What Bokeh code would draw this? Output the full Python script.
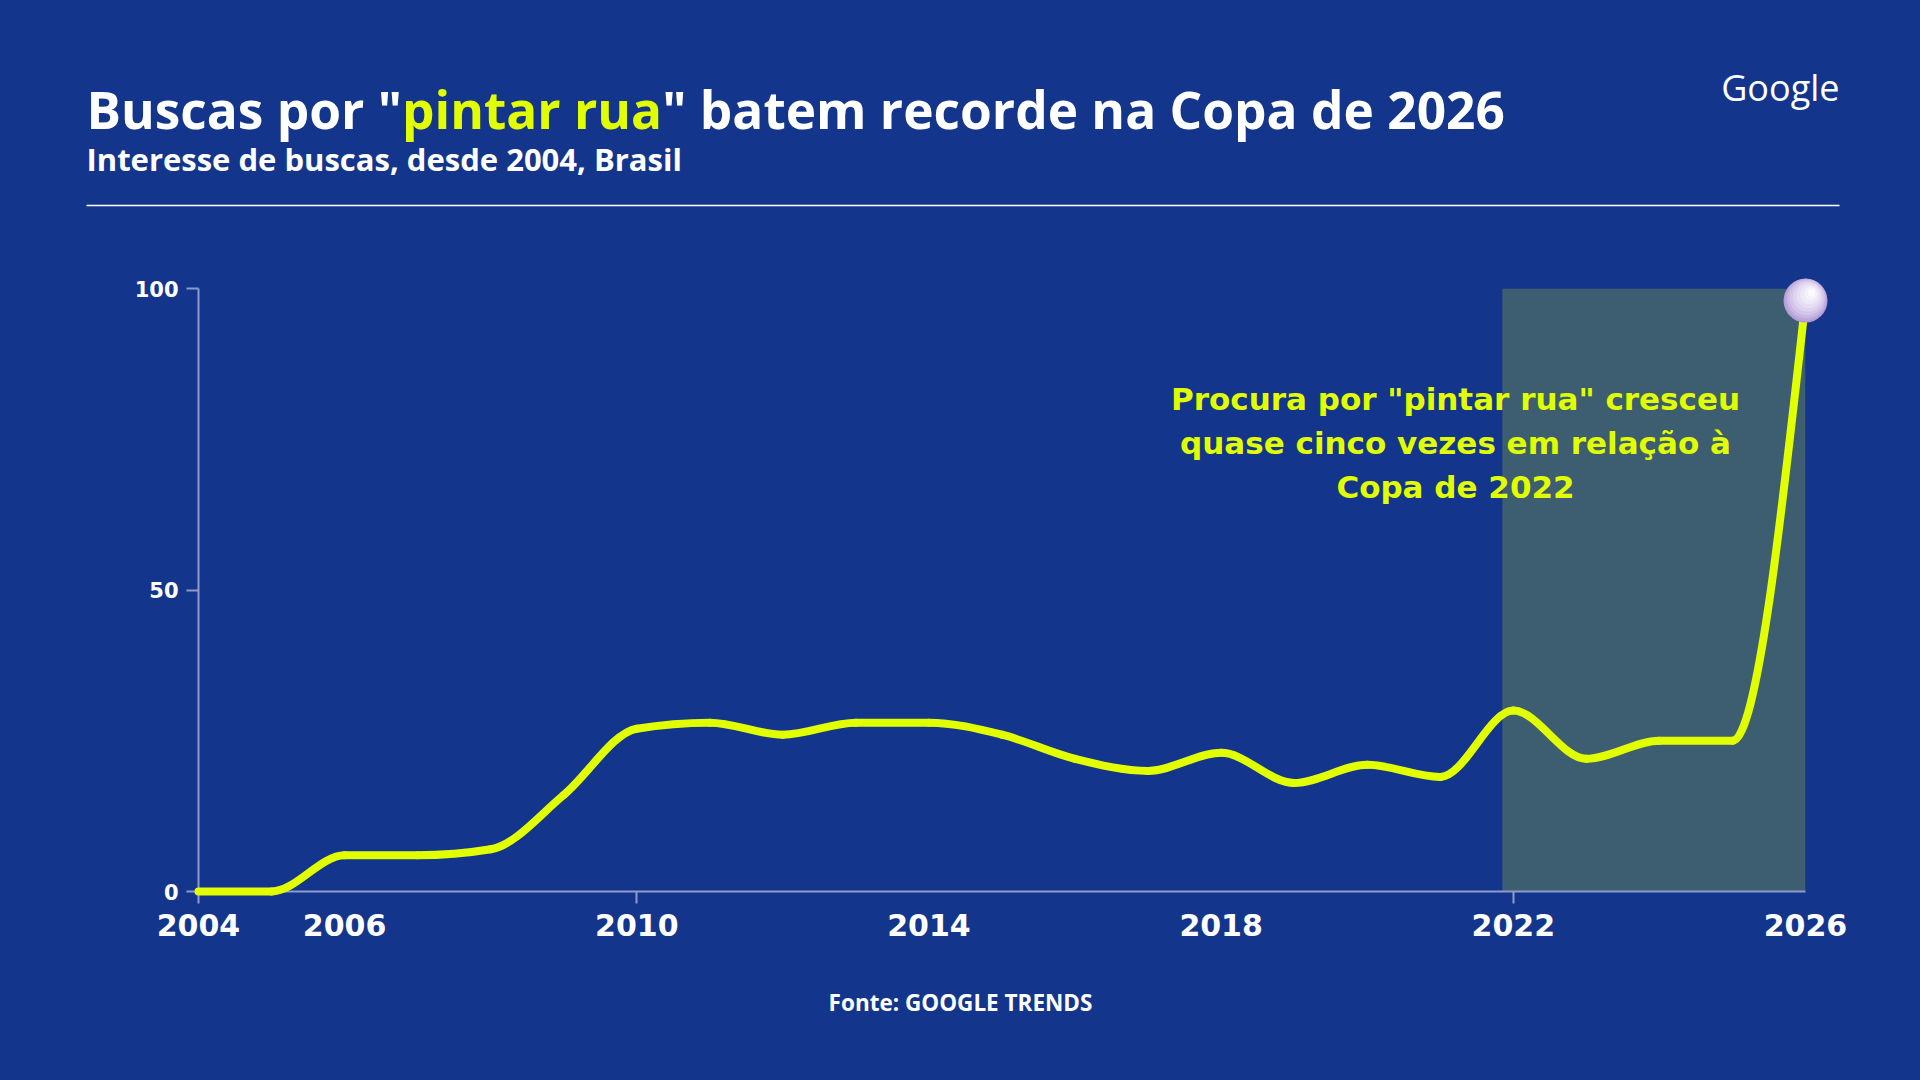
import glob
import os

from bokeh.core.properties import value
from bokeh.embed import file_html
from bokeh.models import FixedTicker, InlineStyleSheet, Range1d
from bokeh.plotting import figure
from bokeh.resources import INLINE

# ---- data -------------------------------------------------------------
years = list(range(2004, 2027))
interest = [0, 0, 6, 6, 7, 16, 27, 28, 26, 28, 28, 26, 22, 20, 23, 18, 21, 19,
            30, 22, 25, 25, 98]

x_tick_labels = [2004, 2006, 2010, 2014, 2018, 2022, 2026]
x_tick_marks = [2004, 2010, 2022]
y_ticks = [0, 50, 100]

copa_window = (2021.85, 2026)

title_parts = ['Buscas por "', "pintar rua", '" batem recorde na Copa de 2026']
subtitle = "Interesse de buscas, desde 2004, Brasil"
note_lines = ['Procura por "pintar rua" cresceu',
              "quase cinco vezes em relação à",
              "Copa de 2022"]
source = "Fonte: GOOGLE TRENDS"
brand = "Google"

# ---- style ------------------------------------------------------------
BG = "#13368C"
LIME = "#E1FF00"
SHADE = "#3D5E70"
AXIS = "#8E9BCB"
WHITE = "#FFFFFF"

W, H = 1920, 1080
FL, FR, FT, FB = 198, 1805, 288, 891          # frame edges in px
X0, X1 = 2004, 2026
Y0, Y1 = 0, 100


def dx(px):
    return X0 + (px - FL) / (FR - FL) * (X1 - X0)


def dy(py):
    return Y0 + (FB - py) / (FB - FT) * (Y1 - Y0)


def font_file(patterns):
    for root in ("/usr/share/fonts", "/usr/local/share/fonts",
                 os.path.expanduser("~/.fonts")):
        for pat in patterns:
            hits = sorted(glob.glob(os.path.join(root, "**", pat), recursive=True))
            if hits:
                return hits[0]
    return None


def text_len(s, patterns, size, fallback_em=0.5):
    try:
        from PIL import ImageFont
        f = font_file(patterns)
        if f:
            fnt = ImageFont.truetype(f, size)
            try:
                if "[" in os.path.basename(f) or "Variable" in f:
                    try:
                        fnt.set_variation_by_name("Bold")
                    except Exception:
                        fnt.set_variation_by_name(b"Bold")
            except Exception:
                pass
            return fnt.getlength(s)
    except Exception:
        pass
    return len(s) * size * fallback_em


# ---- monotone cubic (d3 curveMonotoneX) as bezier segments -------------
def monotone_tangents(xs, ys):
    n = len(xs)
    t = [0.0] * n
    sec = [(ys[i + 1] - ys[i]) / (xs[i + 1] - xs[i]) for i in range(n - 1)]
    sgn = lambda v: (v > 0) - (v < 0)
    for i in range(1, n - 1):
        h0 = xs[i] - xs[i - 1]
        h1 = xs[i + 1] - xs[i]
        s0, s1 = sec[i - 1], sec[i]
        pp = (s0 * h1 + s1 * h0) / (h0 + h1)
        t[i] = (sgn(s0) + sgn(s1)) * min(abs(s0), abs(s1), 0.5 * abs(pp))
    t[0] = (3 * sec[0] - t[1]) / 2
    t[-1] = (3 * sec[-1] - t[-2]) / 2
    return t


tan = monotone_tangents(years, interest)
seg = dict(x0=[], y0=[], x1=[], y1=[], cx0=[], cy0=[], cx1=[], cy1=[])
for i in range(len(years) - 1):
    xa, xb = years[i], years[i + 1]
    ya, yb = interest[i], interest[i + 1]
    h = (xb - xa) / 3
    seg["x0"].append(xa); seg["y0"].append(ya)
    seg["x1"].append(xb); seg["y1"].append(yb)
    seg["cx0"].append(xa + h); seg["cy0"].append(ya + h * tan[i])
    seg["cx1"].append(xb - h); seg["cy1"].append(yb - h * tan[i + 1])

# ---- figure -----------------------------------------------------------
p = figure(width=W, height=H, x_range=Range1d(X0, X1), y_range=Range1d(Y0, Y1),
           min_border_left=FL, min_border_right=W - FR,
           min_border_top=FT, min_border_bottom=H - FB,
           output_backend="svg", toolbar_location=None)
p.background_fill_alpha = 0
p.border_fill_color = BG
p.outline_line_color = None
p.outline_line_alpha = 0
p.xgrid.visible = False
p.ygrid.visible = False
p.stylesheets = [InlineStyleSheet(css=f":host {{ background-color: {BG}; }}")]

# axes
xa = p.xaxis[0]
xa.ticker = FixedTicker(ticks=x_tick_labels, minor_ticks=x_tick_marks)
xa.axis_line_color = AXIS
xa.axis_line_width = 2
xa.major_tick_out = 0
xa.major_tick_in = 0
xa.minor_tick_out = 12
xa.minor_tick_in = 0
xa.minor_tick_line_color = AXIS
xa.minor_tick_line_width = 2
xa.major_label_standoff = 10
xa.major_label_text_font = "DejaVu Sans"
xa.major_label_text_font_style = "bold"
xa.major_label_text_font_size = "30px"
xa.major_label_text_color = WHITE

ya = p.yaxis[0]
ya.ticker = FixedTicker(ticks=y_ticks, minor_ticks=[])
ya.axis_line_color = AXIS
ya.axis_line_width = 2
ya.major_tick_out = 12
ya.major_tick_in = 0
ya.major_tick_line_color = AXIS
ya.major_tick_line_width = 2
ya.minor_tick_line_color = None
ya.major_label_standoff = 8
ya.major_label_text_font = "DejaVu Sans"
ya.major_label_text_font_style = "bold"
ya.major_label_text_font_size = "21px"
ya.major_label_text_color = WHITE

# 2022 -> 2026 highlight window
p.quad(left=[copa_window[0]], right=[copa_window[1]], bottom=[Y0], top=[Y1],
       fill_color=SHADE, line_color=None, level="underlay")

# trend line
p.bezier(x0="x0", y0="y0", x1="x1", y1="y1", cx0="cx0", cy0="cy0",
         cx1="cx1", cy1="cy1", source=seg, line_color=LIME, line_width=8,
         line_cap="round", level="overlay")

# end-point bead (layered circles for a glossy look)
px_x = (X1 - X0) / (FR - FL)
px_y = (Y1 - Y0) / (FB - FT)
ex, ey = years[-1], interest[-1]
bead = [(44, 0.0, 0.0, "#B29AD5"),
        (42, 0.3, 0.8, "#BCA7DA"),
        (39, 0.8, 1.8, "#C8B7E2"),
        (35, 1.5, 2.8, "#D3C6E8"),
        (30, 2.3, 3.8, "#DDD3EE"),
        (25, 3.2, 4.8, "#E6DEF3"),
        (19, 4.2, 5.8, "#EEE9F7"),
        (13, 5.2, 6.8, "#F5F2FB"),
        (7, 6.0, 7.6, "#FBFAFE")]
for size, ox, oy, col in bead:
    p.scatter(x=[ex + ox * px_x], y=[ey + oy * px_y], size=size,
              fill_color=col, line_color=None, level="overlay")

# rule under the heading
p.segment(x0=[dx(86)], y0=[dy(205)], x1=[dx(1839)], y1=[dy(205)],
          line_color=WHITE, line_width=1.5, level="overlay")


# ---- texts --------------------------------------------------------------
# the text glyph's line box sits this fraction of the font size below the
# alphabetic baseline, so lift it to put the baseline at py
BASELINE_LIFT = 0.38


def put_text(px, py, txt, font, size, color, align="left", bold=True):
    p.text(x=[dx(px)], y=[dy(py - BASELINE_LIFT * size)], text=[txt],
           text_font=value(font),
           text_font_style="bold" if bold else "normal",
           text_font_size=value(f"{size}px"), text_color=color,
           text_baseline="alphabetic", text_align=align, level="overlay")


HEAD_FONT = "Open Sans"
HEAD_FILES = ["OpenSans-Bold.ttf", "OpenSans-Bold.*", "OpenSans*wght*.ttf",
              "OpenSans*.ttf"]
TITLE_SIZE = 51.4
tx = 86
for part, col in zip(title_parts, [WHITE, LIME, WHITE]):
    put_text(tx, 128, part, HEAD_FONT, TITLE_SIZE, col)
    tx += text_len(part, HEAD_FILES, TITLE_SIZE, 0.5)

put_text(86, 170, subtitle, HEAD_FONT, 31, WHITE)
put_text(1839, 101, brand, HEAD_FONT, 36, WHITE, align="right", bold=False)

for i, line in enumerate(note_lines):
    put_text(1455, 410 + 44 * i, line, "DejaVu Sans", 31, LIME, align="center")

put_text(960, 1011, source, HEAD_FONT, 22.5, WHITE, align="center")

open("out.html", "w").write(file_html(p, INLINE))
